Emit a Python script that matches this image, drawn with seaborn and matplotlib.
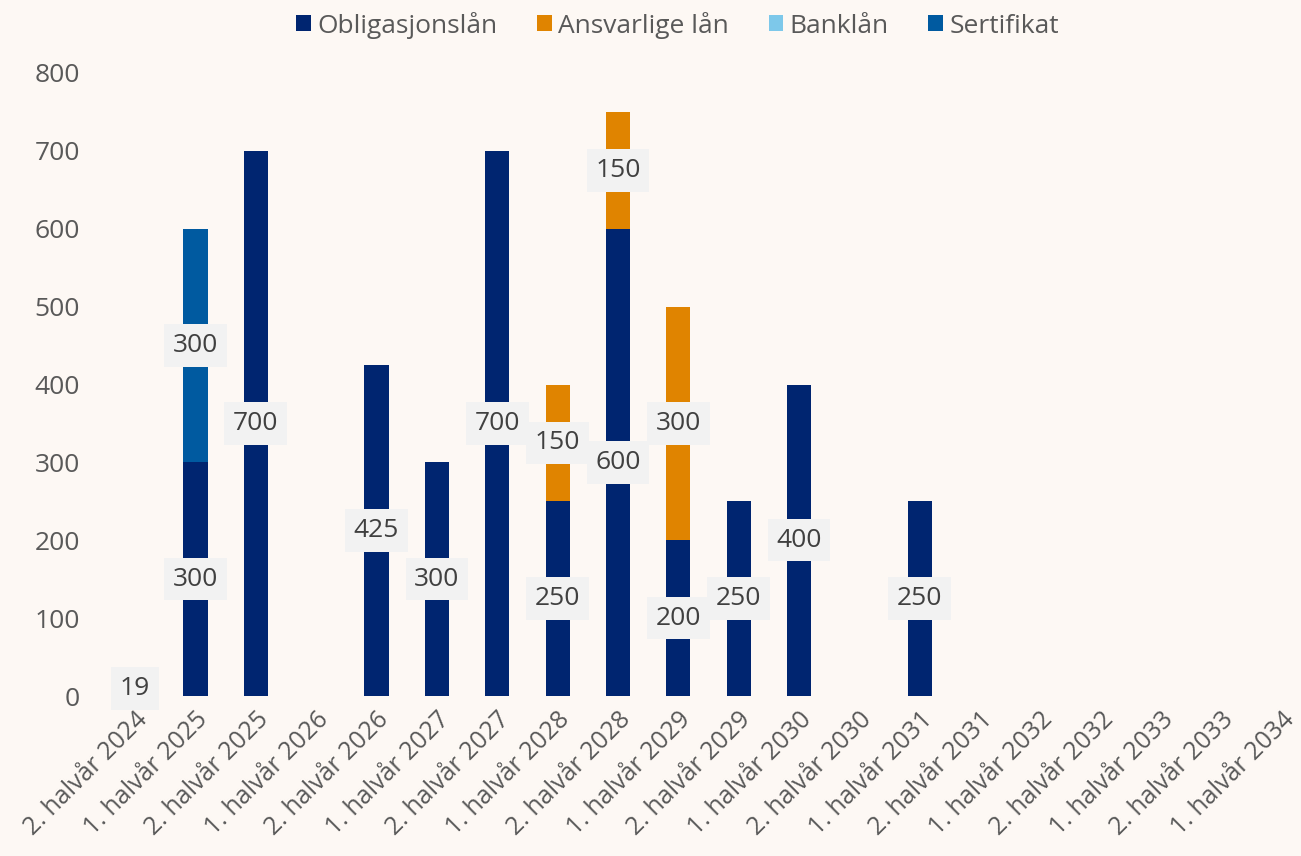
import numpy as np
import pandas as pd
import matplotlib.pyplot as plt
import seaborn as sns

# Data
categories = ["2. halvår 2024", "1. halvår 2025", "2. halvår 2025", "1. halvår 2026",
              "2. halvår 2026", "1. halvår 2027", "2. halvår 2027", "1. halvår 2028",
              "2. halvår 2028", "1. halvår 2029", "2. halvår 2029", "1. halvår 2030",
              "2. halvår 2030", "1. halvår 2031", "2. halvår 2031", "1. halvår 2032",
              "2. halvår 2032", "1. halvår 2033", "2. halvår 2033", "1. halvår 2034"]
obligasjonslan = [0, 300, 700, 0, 425, 300, 700, 250, 600, 200, 250, 400, 0, 250, 0, 0, 0, 0, 0, 0]
ansvarlige_lan = [0, 0, 0, 0, 0, 0, 0, 150, 150, 300, 0, 0, 0, 0, 0, 0, 0, 0, 0, 0]
banklan = [19, 0, 0, 0, 0, 0, 0, 0, 0, 0, 0, 0, 0, 0, 0, 0, 0, 0, 0, 0]
sertifikat = [0, 300, 0, 0, 0, 0, 0, 0, 0, 0, 0, 0, 0, 0, 0, 0, 0, 0, 0, 0]

series = ["Obligasjonslån", "Ansvarlige lån", "Banklån", "Sertifikat"]
values = [obligasjonslan, ansvarlige_lan, banklan, sertifikat]
colors = ["#002570", "#E08400", "#7DC8EA", "#005AA0"]

bg = "#FDF8F4"
sns.set_theme(style="white")
plt.rcParams["font.family"] = ["Open Sans", "DejaVu Sans"]

fig = plt.figure(figsize=(13.01, 8.56), dpi=100, facecolor=bg)
ax = fig.add_axes([105 / 1301, 1 - 696 / 856, 1196 / 1301, (696 - 73) / 856])
ax.set_facecolor(bg)

# Stacked bars: draw cumulative totals from top layer down
cum = np.cumsum(np.array(values), axis=0)
for k in range(len(series) - 1, -1, -1):
    df = pd.DataFrame({"cat": categories, "val": cum[k]})
    sns.barplot(data=df, x="cat", y="val", order=categories, color=colors[k],
                width=0.4, linewidth=0, saturation=1, ax=ax, label=series[k])

# Segment labels
bottoms = np.zeros(len(categories))
for k in range(len(series)):
    for i, v in enumerate(values[k]):
        if v > 0:
            ax.text(i, bottoms[i] + v / 2, f"{v}", ha="center", va="center",
                    fontsize=19, color="#404040",
                    bbox=dict(boxstyle="square,pad=0.33", fc="#F2F2F2", ec="none"))
    bottoms += np.array(values[k])

ax.set_xlim(-0.5, 19.32)
ax.set_ylim(0, 800)
ax.set_yticks(range(0, 801, 100))
ax.set_xlabel("")
ax.set_ylabel("")
for s in ax.spines.values():
    s.set_visible(False)
ax.tick_params(axis="both", length=0, labelsize=19, labelcolor="#595959")
ax.tick_params(axis="y", pad=18)
ax.tick_params(axis="x", pad=8, labelsize=18)
ax.set_xticks(range(len(categories)))
ax.set_xticklabels(categories, rotation=45, ha="right", rotation_mode="anchor")

# Legend in series order
handles, labels = ax.get_legend_handles_labels()
ax.get_legend().remove()
order = [labels.index(s) for s in series]
fig.legend([handles[i] for i in order], series, loc="upper center",
           bbox_to_anchor=(0.521, 1.014), ncol=4, frameon=False, fontsize=19,
           labelcolor="#595959", handlelength=0.55, handleheight=0.55,
           handletextpad=0.25, columnspacing=1.5)

plt.savefig("out.png", dpi=100, facecolor=bg)
plt.close()
